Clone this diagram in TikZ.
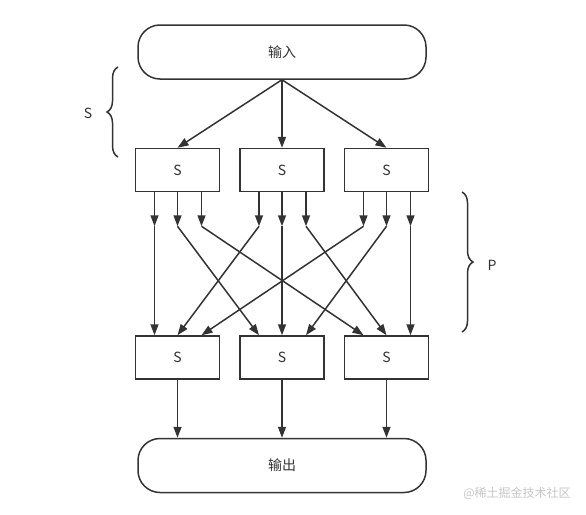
\documentclass[tikz,border=0pt]{standalone}
\usepackage{fontspec}
\setmainfont{Noto Sans CJK SC}
\usetikzlibrary{arrows.meta,positioning,decorations.pathreplacing}
\definecolor{ink}{HTML}{333333}

\begin{document}
\begin{tikzpicture}[x=1pt, y=1pt, >={Triangle[length=11pt, width=8pt]},
  every node/.style={text=ink, font=\fontsize{14}{16}\selectfont},
  term/.style={draw=ink, line width=1.5pt, rounded corners=22pt, minimum width=288pt, minimum height=54pt},
  sbox/.style={draw=ink, line width=1.5pt, minimum width=84pt, minimum height=43pt},
  arr/.style={->, draw=ink, line width=1.5pt},
  brc/.style={draw=ink, line width=1.5pt, decorate, decoration={brace, amplitude=11pt}},
  node distance=68pt and 19pt]
\useasboundingbox (0,0) rectangle (586,-514);

\node[term] (in) at (282,-52) {输入};
\node[sbox, below=of in] (s2) {S};
\node[sbox, left=of s2] (s1) {S};
\node[sbox, right=of s2] (s3) {S};
\node[sbox, below=143pt of s2] (b2) {S};
\node[sbox, left=of b2] (b1) {S};
\node[sbox, right=of b2] (b3) {S};
\node[term, below=58pt of b2] (out) {输出};

% end points of the fan-out
\foreach \i in {1,2,3}{
  \foreach \j/\dx in {1/-23,2/0,3/24}{
    \coordinate (o\i\j) at ([xshift=\dx pt]s\i.south);
    \coordinate (m\i\j) at ([xshift=\dx pt, yshift=-34pt]s\i.south);
    \coordinate (t\i\j) at ([xshift=\dx pt]b\i.north);
  }
}

\foreach \i in {1,2,3}{
  \draw[arr] (in.south) -- (s\i.north);
  \draw[arr] (b\i.south) -- (b\i.south |- out.north);
  \foreach \j in {1,2,3}{
    \draw[arr] (o\i\j) -- (m\i\j);
    \draw[arr] (m\i\j) -- (t\j\i);
  }
}

% braces
\coordinate (sb) at (118,-157);
\coordinate (st) at (118,-67);
\coordinate (pt) at (462,-192);
\coordinate (pb) at (462,-332);
\draw[brc] (sb) -- (st);
\draw[brc] (pt) -- (pb);
\node (slab) at (88,-113) {S};
\node (plab) at (492,-265) {P};

\node[text=gray!45, font=\fontsize{12}{14}\selectfont] (mark) at (517,-493) {@稀土掘金技术社区};
\end{tikzpicture}
\end{document}
